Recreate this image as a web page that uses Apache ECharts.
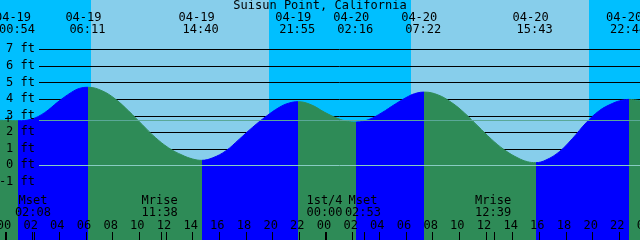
<!DOCTYPE html>
<html><head><meta charset="utf-8">
<script src="https://cdn.jsdelivr.net/npm/echarts@6/dist/echarts.min.js"></script>
<style>html,body{margin:0;padding:0;background:#00BFFF}#c{width:640px;height:240px}</style>
</head><body><div id="c"></div>
<script>
const title = 'Suisun Point, California';
// tide curve samples: hours after 04-19 00:00, feet
const sampleHours = [-0.45, 0.90, 1.90, 2.90, 3.90, 4.90, 5.50, 6.18, 7.20, 8.20, 9.20, 10.20, 11.20, 12.20, 13.20, 14.00, 14.67, 15.50, 16.50, 17.50, 18.50, 19.50, 20.50, 21.20, 21.92, 22.90, 23.90, 24.90, 25.60, 26.27, 27.20, 28.20, 29.20, 30.20, 30.80, 31.37, 32.40, 33.40, 34.40, 35.40, 36.40, 37.40, 38.40, 39.10, 39.72, 40.50, 41.50, 42.50, 43.50, 44.50, 45.50, 46.20, 46.73, 47.55];
const sampleFeet  = [2.72, 2.69, 2.78, 3.18, 3.83, 4.40, 4.64, 4.71, 4.50, 4.00, 3.28, 2.47, 1.68, 1.05, 0.62, 0.38, 0.30, 0.45, 0.88, 1.58, 2.30, 2.95, 3.50, 3.75, 3.84, 3.65, 3.20, 2.82, 2.66, 2.61, 2.76, 3.18, 3.70, 4.17, 4.36, 4.42, 4.25, 3.80, 3.15, 2.36, 1.58, 0.92, 0.44, 0.22, 0.16, 0.32, 0.82, 1.63, 2.56, 3.30, 3.74, 3.93, 3.98, 3.90];
const tideDates = ['04-19', '04-19', '04-19', '04-19', '04-20', '04-20', '04-20', '04-20'];
const tideTimes = ['00:54', '06:11', '14:40', '21:55', '02:16', '07:22', '15:43', '22:44'];
const tideKinds = ['low', 'high', 'low', 'high', 'low', 'high', 'low', 'high'];
const sunDates = ['04-19', '04-20'];
const sunriseTimes = ['06:23', '06:21'];
const sunsetTimes = ['19:43', '19:45'];
const moonDates = ['04-19', '04-19', '04-20', '04-20', '04-20'];
const moonNames = ['Mset', 'Mrise', '1st/4', 'Mset', 'Mrise'];
const moonTimes = ['02:08', '11:38', '00:00', '02:53', '12:39'];
const levelFeet = [-1, 0, 1, 2, 3, 4, 5, 6, 7];
const meanLevelFeet = 2.72;
const hourTicks = [0, 2, 4, 6, 8, 10, 12, 14, 16, 18, 20, 22, 24, 26, 28, 30, 32, 34, 36, 38, 40, 42, 44, 46, 48];

const dayIndex = {'04-19': 0, '04-20': 1};
function toHours(d, t) { const p = t.split(':').map(Number); return dayIndex[d] * 24 + p[0] + p[1] / 60; }
const tideHours = tideDates.map((d, i) => toHours(d, tideTimes[i]));
const sunriseHours = sunDates.map((d, i) => toHours(d, sunriseTimes[i]));
const sunsetHours = sunDates.map((d, i) => toHours(d, sunsetTimes[i]));
const moonHours = moonDates.map((d, i) => toHours(d, moonTimes[i]));

const C = {night: '#00BFFF', day: '#87CEEB', rise: '#0000FF', fall: '#2E8B57', mean: '#5aa898', datum: '#88ccc2', text: '#000'};
const FONT = '12px "DejaVu Sans Mono"';

const pieces = [];
pieces.push({lt: tideHours[0], color: tideKinds[0] === 'low' ? C.fall : C.rise});
for (let i = 0; i < tideHours.length; i++) {
  const color = tideKinds[i] === 'low' ? C.rise : C.fall;
  if (i < tideHours.length - 1) pieces.push({gte: tideHours[i], lt: tideHours[i + 1], color});
  else pieces.push({gte: tideHours[i], color});
}

function txt(x, y, text, align) {
  return {type: 'text', x: x, y: y, style: {text: text, font: FONT, fill: C.text, align: align || 'center', verticalAlign: 'middle'}};
}
function hline(y, x1, x2, color) {
  const yy = Math.round(y) + 0.5;
  return {type: 'line', shape: {x1: x1, y1: yy, x2: x2, y2: yy}, style: {stroke: color, lineWidth: 1}};
}

function renderBackground(params, api) {
  const cs = params.coordSys;
  const children = [];
  sunriseHours.forEach((h, i) => {
    const x0 = Math.round(api.coord([h, 0])[0]);
    const x1 = Math.round(api.coord([sunsetHours[i], 0])[0]);
    children.push({type: 'rect', shape: {x: x0, y: cs.y, width: x1 - x0, height: cs.height}, style: {fill: C.day}});
  });
  levelFeet.forEach(v => children.push(hline(api.coord([0, v])[1], 39, cs.x + cs.width, '#000')));
  return {type: 'group', children};
}

function renderForeground(params, api) {
  const cs = params.coordSys;
  const W = cs.x + cs.width;
  const children = [];
  children.push(hline(api.coord([0, 0])[1], 39, W, C.datum));
  children.push(hline(api.coord([0, meanLevelFeet])[1], 39, W, C.mean));
  children.push(txt(8, api.coord([0, meanLevelFeet])[1], '+'));
  levelFeet.forEach(v => children.push(txt(35, api.coord([0, v])[1], v + ' ft', 'right')));
  children.push(txt(320, 6, title));
  tideHours.forEach((h, i) => {
    const x = api.coord([h, 0])[0];
    children.push(txt(x - 5, 17.5, tideDates[i]));
    children.push(txt(x - 1, 29.5, tideTimes[i]));
  });
  moonHours.forEach((h, i) => {
    const x = api.coord([h, 0])[0];
    children.push(txt(x - 1.5, 201, moonNames[i]));
    children.push(txt(x - 1.5, 212.5, moonTimes[i]));
    children.push({type: 'rect', shape: {x: Math.floor(x), y: 232, width: 1, height: 8}, style: {fill: '#000'}});
  });
  hourTicks.forEach(h => {
    const x = api.coord([h, 0])[0];
    children.push(txt(x - 2, 225.5, String(h % 24).padStart(2, '0')));
    const mid = h % 24 === 0;
    children.push({type: 'rect', shape: {x: Math.floor(x) - (mid ? 1 : 0), y: 232, width: mid ? 2 : 1, height: 8}, style: {fill: '#000'}});
  });
  return {type: 'group', children};
}

const chart = echarts.init(document.getElementById('c'), null, {renderer: 'canvas'});
chart.setOption({
  animation: false,
  backgroundColor: C.night,
  grid: {left: 0, right: 0, top: 0, bottom: 0},
  xAxis: {type: 'value', min: -0.45, max: 47.55, show: false},
  yAxis: {type: 'value', min: -4.51, max: 9.98, show: false},
  visualMap: {type: 'piecewise', show: false, dimension: 0, seriesIndex: 1, pieces: pieces},
  series: [
    {type: 'custom', z: 0, silent: true, renderItem: renderBackground, data: [[0, 0]]},
    {type: 'line', z: 2, silent: true, smooth: 0.4, symbol: 'none', showSymbol: false,
     data: sampleHours.map((h, i) => [h, sampleFeet[i]]),
     lineStyle: {width: 1}, areaStyle: {opacity: 1, origin: 'start'}},
    {type: 'custom', z: 5, silent: true, renderItem: renderForeground, data: [[0, 0]]}
  ]
});
</script>
</body></html>
